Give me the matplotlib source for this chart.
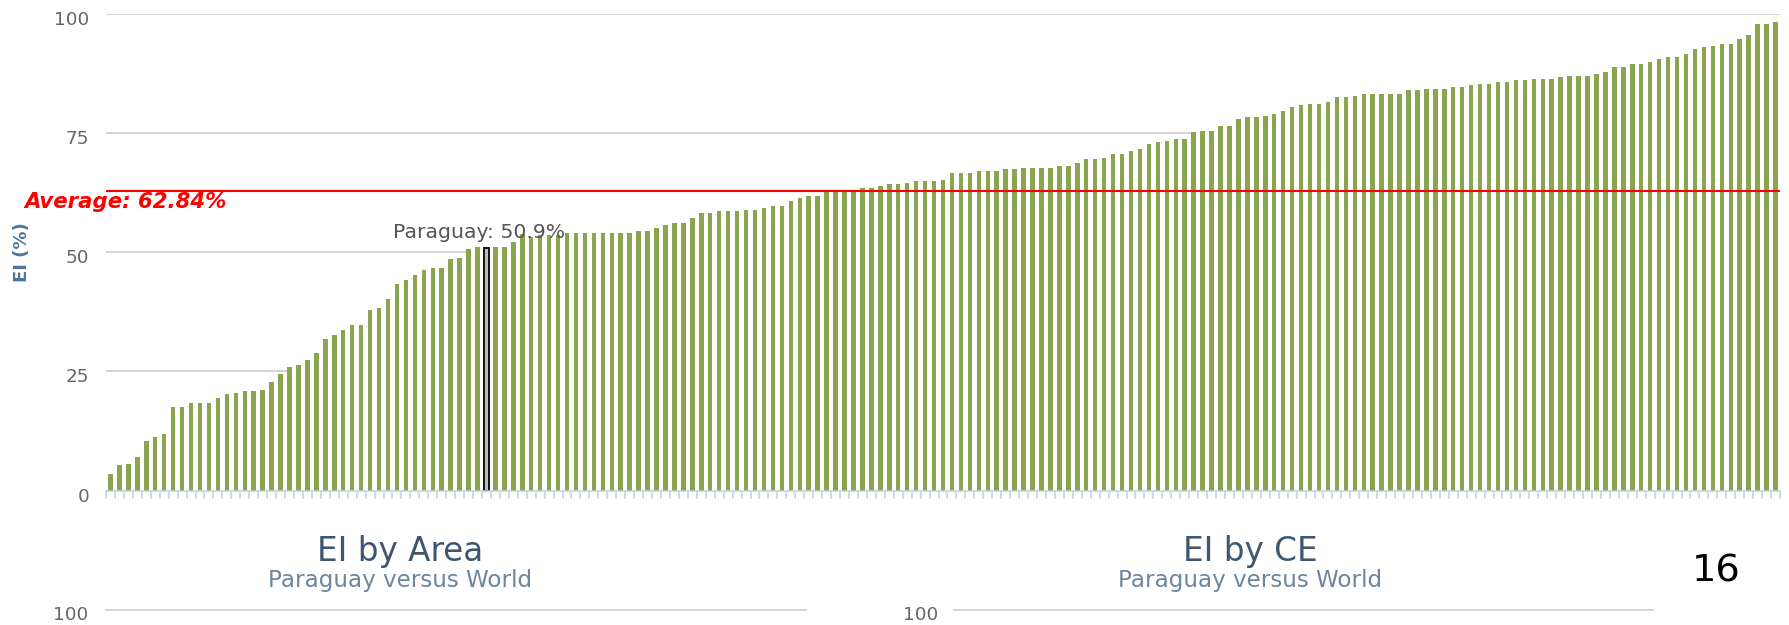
import numpy as np
import matplotlib
matplotlib.use("Agg")
import matplotlib.pyplot as plt
from matplotlib.lines import Line2D
from matplotlib.transforms import ScaledTranslation

plt.rcParams['font.family'] = 'DejaVu Sans'

# ---- data ----
EI_VALUES = [
    3.5, 5.3, 5.7, 7.1, 10.4, 11.2, 11.8, 17.6, 17.6, 18.3,
    18.3, 18.3, 19.5, 20.2, 20.5, 20.9, 20.9, 21.2, 22.7, 24.5,
    26.0, 26.3, 27.4, 28.9, 31.8, 32.6, 33.6, 34.7, 34.7, 37.9,
    38.3, 40.1, 43.4, 44.1, 45.2, 46.3, 46.6, 46.6, 48.5, 48.8,
    50.6, 51.0, 50.9, 51.0, 51.0, 52.2, 53.8, 53.2, 53.7, 53.7,
    53.7, 54.0, 54.0, 54.0, 54.0, 54.0, 54.0, 54.0, 54.0, 54.4,
    54.4, 55.1, 55.8, 56.1, 56.1, 57.1, 58.2, 58.2, 58.6, 58.6,
    58.6, 58.9, 58.9, 59.3, 59.7, 59.7, 60.7, 61.4, 61.7, 61.7,
    62.8, 63.0, 63.0, 63.0, 63.5, 63.5, 63.9, 64.2, 64.2, 64.6,
    64.9, 64.9, 64.9, 65.2, 66.7, 66.7, 66.7, 67.0, 67.0, 67.0,
    67.4, 67.4, 67.7, 67.7, 67.7, 67.7, 68.1, 68.1, 68.8, 69.5,
    69.5, 69.8, 70.5, 70.5, 71.3, 71.6, 72.7, 73.0, 73.4, 73.7,
    73.7, 75.1, 75.5, 75.5, 76.5, 76.5, 78.0, 78.3, 78.3, 78.6,
    79.0, 79.7, 80.4, 80.8, 81.1, 81.1, 81.5, 82.5, 82.5, 82.8,
    83.2, 83.2, 83.2, 83.2, 83.2, 83.9, 83.9, 84.3, 84.3, 84.3,
    84.6, 84.6, 85.0, 85.3, 85.3, 85.6, 85.6, 86.0, 86.0, 86.3,
    86.3, 86.3, 86.7, 87.0, 87.0, 87.0, 87.4, 87.7, 88.8, 88.8,
    89.5, 89.5, 89.8, 90.6, 90.9, 90.9, 91.6, 92.7, 93.0, 93.3,
    93.7, 93.7, 94.8, 95.5, 97.9, 97.9, 98.3,
]
HIGHLIGHT_INDEX = 42          # Paraguay
HIGHLIGHT_NAME = "Paraguay"
AVERAGE = 62.84
Y_TICKS = [0, 25, 50, 75, 100]
CHART_TITLES = ["EI by Area", "EI by CE"]
CHART_SUBTITLE = "Paraguay versus World"
PAGE_NUMBER = "16"

# ---- colours ----
GREEN = "#89A54E"
GRID = "#C8C8C8"
AXIS_BLUE = "#C0D0E0"
LABEL_GRAY = "#666666"

W, H = 1789, 625
values = np.array(EI_VALUES)
n = len(values)
x = np.arange(n)

fig = plt.figure(figsize=(W / 100, H / 100), dpi=100)
ax = fig.add_axes([106 / W, 134.3 / H, (1780 - 106) / W, 477 / H])

# ---- gridlines: visible only until the bars grow over them ----
for level in Y_TICKS[1:]:
    above = np.nonzero(values > level)[0]
    end = above[0] - 0.27 if len(above) else n - 0.5
    ax.hlines(level, -0.5, end, color=GRID, lw=1.1, zorder=1)

# ---- bars ----
colors = [GREEN] * n
bars = ax.bar(x, values, width=0.5, color=colors, zorder=2, linewidth=0)
hb = bars[HIGHLIGHT_INDEX]
hb.set_facecolor("#BDBDBD")
hb.set_edgecolor("#111111")
hb.set_linewidth(1.4)
hb.set_zorder(3)

ax.annotate(f"{HIGHLIGHT_NAME}: {values[HIGHLIGHT_INDEX]:.1f}%",
            xy=(HIGHLIGHT_INDEX, values[HIGHLIGHT_INDEX]),
            xytext=(-5, 4), textcoords="offset points",
            ha="center", va="bottom", fontsize=14.7, color="#555555", zorder=6)

# ---- average line ----
ax.axhline(AVERAGE, color="#FF0000", lw=1.5, zorder=5)
ax.annotate(f"Average: {AVERAGE:.2f}%", xy=(24 / W, AVERAGE),
            xycoords=("figure fraction", "data"),
            xytext=(0, -8), textcoords="offset points",
            ha="left", va="center", fontsize=15.3, color="#FF0000",
            fontweight="bold", fontstyle="italic", annotation_clip=False)

# ---- axes styling ----
ax.set_xlim(-0.5, n - 0.5)
ax.set_ylim(0, 100)
ax.set_yticks(Y_TICKS)
ax.set_yticklabels([str(v) for v in Y_TICKS])
ax.tick_params(axis="y", length=0, pad=12, labelsize=13.2, labelcolor=LABEL_GRAY)
shift = ScaledTranslation(0, -4 / 100, fig.dpi_scale_trans)
for lab in ax.get_yticklabels():
    lab.set_transform(lab.get_transform() + shift)

ax.set_xticks(np.arange(n + 1) - 0.5)
ax.set_xticklabels([])
ax.tick_params(axis="x", length=5.8, width=1.1, color=AXIS_BLUE, direction="out")

for side in ["top", "right", "left"]:
    ax.spines[side].set_visible(False)
ax.spines["bottom"].set_color(AXIS_BLUE)
ax.spines["bottom"].set_linewidth(1.1)
ax.spines["bottom"].set_zorder(4)

ax.set_ylabel("EI (%)", fontsize=13, fontweight="bold", color="#4D759E",
              va="center")
ax.yaxis.set_label_coords((22 - 106) / 1674, 0.5)

# ---- the two chart headers below ----
for title, cx in zip(CHART_TITLES, [400, 1250]):
    fig.text(cx / W, 1 - 551 / H, title, ha="center", va="center",
             fontsize=23.5, color="#3E576F")
    fig.text(cx / W, 1 - 581 / H, CHART_SUBTITLE, ha="center", va="center",
             fontsize=16.6, color="#6D869F")

# top gridline of the next charts, cut off by the page edge
for x0, x1, lab_x in [(106, 806, 88), (954, 1653, 938)]:
    fig.add_artist(Line2D([x0 / W, x1 / W], [1 - 610 / H] * 2, color=GRID, lw=1.1))
    fig.text(lab_x / W, 1 - 615 / H, "100", ha="right", va="center",
             fontsize=13.2, color=LABEL_GRAY)

fig.text(1716 / W, 1 - 572 / H, PAGE_NUMBER, ha="center", va="center",
         fontsize=27.7, color="black")

fig.savefig("out.png", dpi=100)
plt.close(fig)
